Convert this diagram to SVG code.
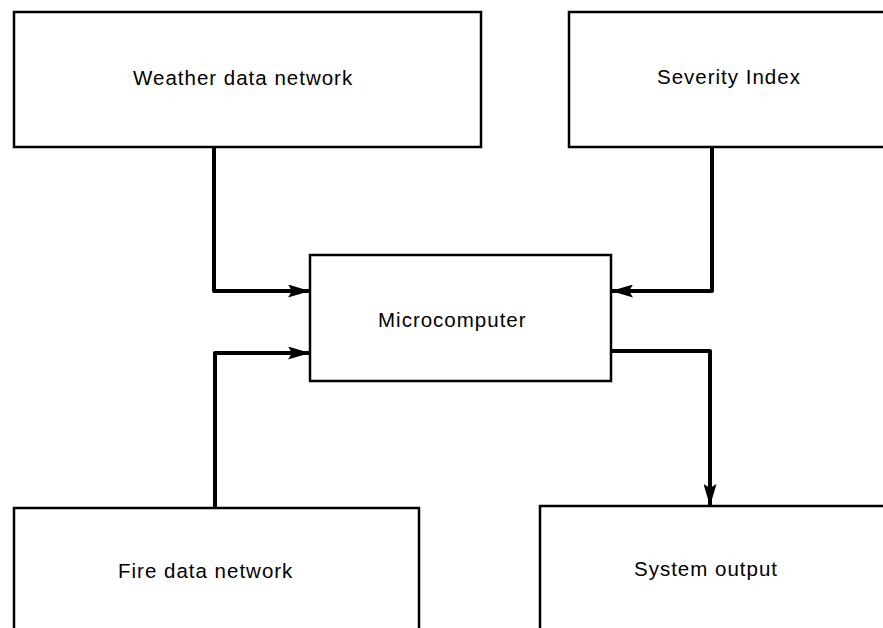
<svg xmlns="http://www.w3.org/2000/svg" width="883" height="628" viewBox="0 0 883 628">
  <style>
    .box { fill: #fff; stroke: #000; stroke-width: 2.5; }
    .label { font-family: "Liberation Sans", Arial, sans-serif; font-size: 20.5px; letter-spacing: 1px; fill: #000; }
    .wire { fill: none; stroke: #000; stroke-width: 4; stroke-linejoin: round; }
  </style>
  <defs>
    <marker id="head" viewBox="0 0 22 13" refX="21" refY="6.5" markerUnits="userSpaceOnUse" markerWidth="22" markerHeight="13" orient="auto">
      <path d="M0,0 L22,6.5 L0,13 L4,6.5 Z" fill="#000"/>
    </marker>
  </defs>
  <rect width="883" height="628" fill="#fff"/>

  <g id="weather">
    <rect class="box" x="14" y="12" width="467" height="135"/>
    <text class="label" x="133" y="85">Weather data network</text>
  </g>
  <g id="severity">
    <rect class="box" x="569" y="12" width="330" height="135"/>
    <text class="label" x="657" y="84">Severity Index</text>
  </g>
  <g id="micro">
    <rect class="box" x="310" y="255" width="301" height="126"/>
    <text class="label" x="378" y="327">Microcomputer</text>
  </g>
  <g id="fire">
    <rect class="box" x="14" y="508" width="405" height="140"/>
    <text class="label" x="118" y="578">Fire data network</text>
  </g>
  <g id="output">
    <rect class="box" x="540" y="506" width="360" height="140"/>
    <text class="label" x="634" y="576">System output</text>
  </g>

  <g id="connectors">
    <path class="wire" d="M214,147 V291 H309" marker-end="url(#head)"/>
    <path class="wire" d="M712,147 V291 H612" marker-end="url(#head)"/>
    <path class="wire" d="M215,508 V353 H309" marker-end="url(#head)"/>
    <path class="wire" d="M611,351 H710 V505" marker-end="url(#head)"/>
  </g>
</svg>
